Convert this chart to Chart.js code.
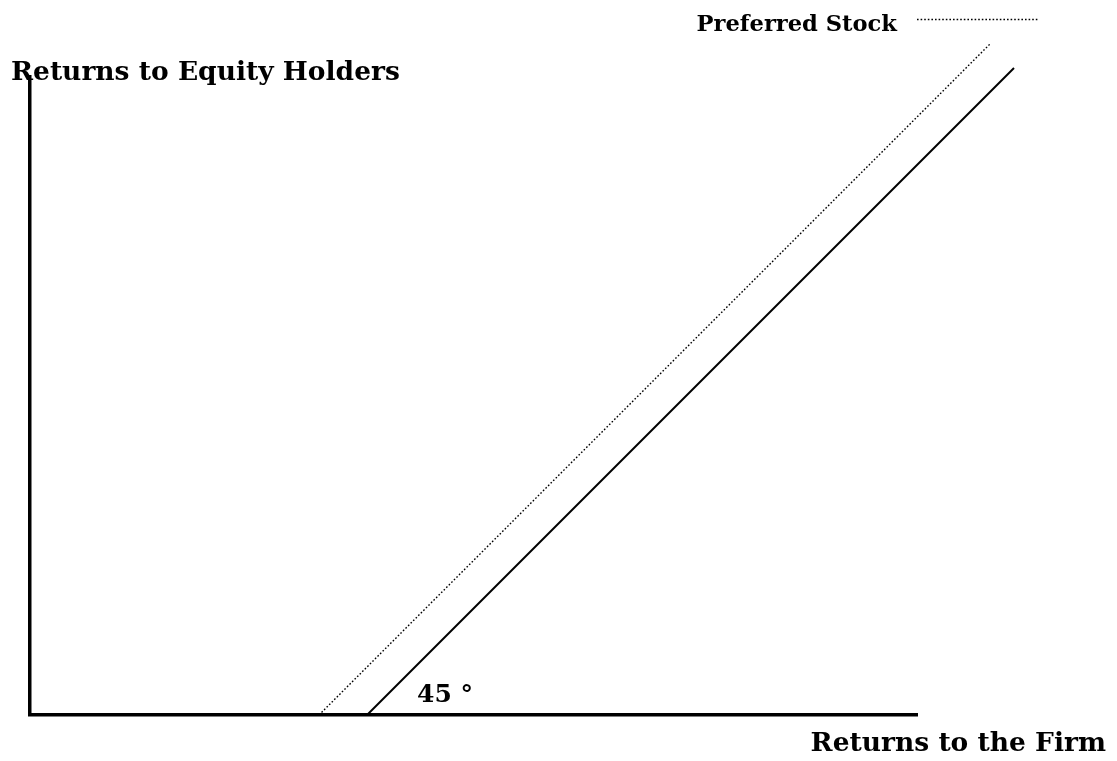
<!DOCTYPE html>
<html>
<head>
<meta charset="utf-8">
<title>Returns to Equity Holders</title>
<script src="https://cdn.jsdelivr.net/npm/chart.js@4/dist/chart.umd.min.js"></script>
<style>
  html, body { margin: 0; padding: 0; background: #fff; }
  #wrap { position: relative; width: 1117px; height: 761px; }
</style>
</head>
<body>
<div id="wrap"><canvas id="payoffChart"></canvas></div>
<script>
/* ── Data (units: returns to the firm / to equity holders) ───── */

const xMax = 88.7;
const yMax = 63.8;

// Common equity: 45° line starting once the firm's returns clear the claims ahead of it
const commonFirm   = [33.7, 98.4];
const commonEquity = [0,    64.7];

// Preferred stock
const prefFirm   = [28.9, 96.0];
const prefEquity = [0,    67.1];

const legendLabel = 'Preferred Stock';
const yTitle      = 'Returns to Equity Holders';
const xTitle      = 'Returns to the Firm';
const angleLabel  = '45 °';

/* ── Helpers ─────────────────────────────────────── */

const toPoints = (xs, ys) => xs.map((x, i) => ({ x, y: ys[i] }));

const FONT = "'DejaVu Serif', serif";

// Titles, angle note and legend are written onto the canvas after the lines
const labelsPlugin = {
  id: 'labels',
  afterDraw(chart) {
    const { ctx } = chart;
    ctx.save();
    ctx.fillStyle = '#000';
    ctx.textBaseline = 'alphabetic';

    ctx.font = `bold 26.5px ${FONT}`;
    ctx.textAlign = 'left';
    ctx.fillText(yTitle, 11, 80);

    ctx.font = `bold 26.5px ${FONT}`;
    ctx.textAlign = 'right';
    ctx.fillText(xTitle, 1106, 751);

    ctx.font = `bold 25px ${FONT}`;
    ctx.textAlign = 'left';
    ctx.fillText(angleLabel, 417, 702);

    // legend: label, then a dotted sample of the line
    const ds = chart.data.datasets[1];
    ctx.font = `bold 22.6px ${FONT}`;
    ctx.textAlign = 'right';
    ctx.fillText(ds.label, 897, 31);
    ctx.strokeStyle = ds.borderColor;
    ctx.lineWidth = ds.borderWidth;
    ctx.setLineDash(ds.borderDash);
    ctx.beginPath();
    ctx.moveTo(917, 19.5);
    ctx.lineTo(1038, 19.5);
    ctx.stroke();
    ctx.restore();
  },
};

/* ── Chart ───────────────────────────────────────── */

new Chart(document.getElementById('payoffChart'), {
  type: 'scatter',
  data: {
    datasets: [
      {
        label:       'Common Stock',
        data:        toPoints(commonFirm, commonEquity),
        showLine:    true,
        borderColor: '#000',
        borderWidth: 2,
        pointRadius: 0,
        clip:        false,
      },
      {
        label:       legendLabel,
        data:        toPoints(prefFirm, prefEquity),
        showLine:    true,
        borderColor: '#000',
        borderWidth: 1.4,
        borderDash:  [1.6, 2],
        pointRadius: 0,
        clip:        false,
      },
    ],
  },
  options: {
    responsive:          true,
    maintainAspectRatio: false,
    animation:           false,
    layout: {
      padding: { left: 30, right: 200, top: 77, bottom: 46 },
    },
    scales: {
      x: {
        type:   'linear',
        min:    0,
        max:    xMax,
        grid:   { drawOnChartArea: false, drawTicks: false },
        border: { display: true, color: '#000', width: 3.5 },
        ticks:  { display: false },
      },
      y: {
        type:   'linear',
        min:    0,
        max:    yMax,
        grid:   { drawOnChartArea: false, drawTicks: false },
        border: { display: true, color: '#000', width: 3.5 },
        ticks:  { display: false },
      },
    },
    plugins: {
      legend:  { display: false },
      tooltip: { enabled: false },
    },
  },
  plugins: [labelsPlugin],
});
</script>
</body>
</html>
